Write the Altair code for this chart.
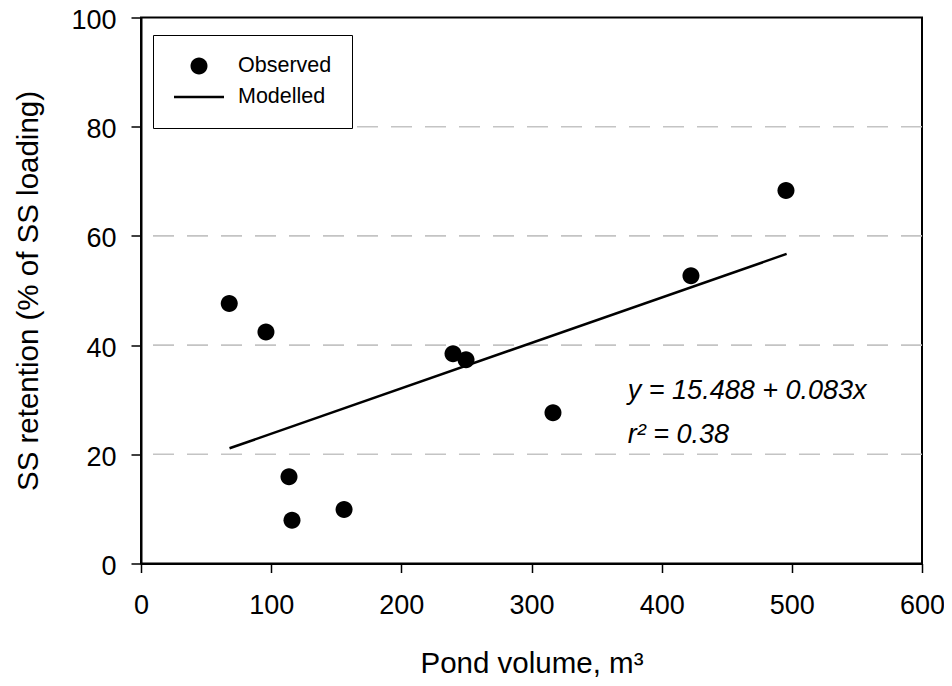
import altair as alt
import pandas as pd

# ---- data ----
obs_x = [67.8, 96.0, 113.7, 116.0, 156.0, 239.7, 249.7, 316.5, 422.5, 495.5]
obs_y = [47.6, 42.4, 15.9, 7.9, 9.9, 38.4, 37.3, 27.6, 52.7, 68.3]
mod_x = [68, 496]
mod_y = [21.1, 56.7]
series_names = ["Observed", "Modelled"]
grid_y = [20, 40, 60, 80]
x_ticks = [0, 100, 200, 300, 400, 500, 600]
y_ticks = [0, 20, 40, 60, 80, 100]
eq_text = ["y = 15.488 + 0.083x", "r\u00b2 = 0.38"]
eq_x = [374, 374]
eq_y = [30.2, 22.0]

FONT = "Liberation Sans"

obs = pd.DataFrame({"x": obs_x, "y": obs_y, "series": series_names[0]})
mod = pd.DataFrame({"x": mod_x, "y": mod_y, "series": series_names[1]})
grid = pd.DataFrame({"y": grid_y})
eq = pd.DataFrame({"x": eq_x, "y": eq_y, "t": eq_text})

xscale = alt.Scale(domain=[0, 600], nice=False, zero=False)
yscale = alt.Scale(domain=[0, 100], nice=False, zero=False)

x_axis = alt.Axis(values=x_ticks, title="Pond volume, m\u00b3", grid=False,
                  labelFontSize=27, labelFont=FONT, labelColor="black",
                  labelPadding=20, tickSize=9, tickWidth=1.5, tickColor="black",
                  domainColor="black", domainWidth=2,
                  titleFont=FONT, titleFontSize=29.5, titleFontWeight="normal",
                  titleColor="black", titleBaseline="alphabetic",
                  titleX=390.5, titleY=109, labelFlush=False)
y_axis = alt.Axis(values=y_ticks, title="SS retention (% of SS loading)", grid=False,
                  labelFontSize=27, labelFont=FONT, labelColor="black",
                  labelPadding=15, labelOffset=3, tickSize=10, tickWidth=1.5,
                  tickColor="black", domainColor="black", domainWidth=2,
                  titleFont=FONT, titleFontSize=29.5, titleFontWeight="normal",
                  titleColor="black", titleBaseline="alphabetic", titleAngle=270,
                  titleX=-104, titleY=273, labelFlush=False)

gridlines = alt.Chart(grid).mark_rule(color="#c4c4c4", strokeWidth=1.6,
                                      strokeDash=[21, 13]).encode(
    y=alt.Y("y:Q", scale=yscale, axis=y_axis)
)

# filled shapes (unit coordinates, scaled by sqrt(size)/2 = 25 px)
circle_path = "M0.34,0A0.34,0.34,0,1,1,-0.34,0A0.34,0.34,0,1,1,0.34,0Z"
line_path = "M-1,-0.05H1V0.05H-1Z"

points = alt.Chart(obs).mark_point(filled=True, size=2500, color="black",
                                   opacity=1).encode(
    x=alt.X("x:Q", scale=xscale, axis=x_axis),
    y=alt.Y("y:Q", scale=yscale, axis=y_axis),
    shape=alt.Shape("series:N",
                    scale=alt.Scale(domain=series_names, range=[circle_path, line_path]),
                    legend=alt.Legend(title=None, orient="none", legendX=12, legendY=17.5,
                                      padding=20, strokeColor="black", fillColor="white",
                                      cornerRadius=0, labelFont=FONT, labelFontSize=21.5,
                                      labelColor="black", labelOffset=13, symbolSize=2500,
                                      symbolOffset=0, clipHeight=22, rowPadding=9,
                                      symbolFillColor="black"))
)

model = alt.Chart(mod).mark_line(color="black", strokeWidth=2.5).encode(
    x=alt.X("x:Q", scale=xscale),
    y=alt.Y("y:Q", scale=yscale)
)

eqs = alt.Chart(eq).mark_text(align="left", baseline="alphabetic", font=FONT,
                              fontSize=27, fontStyle="italic", color="black").encode(
    x=alt.X("x:Q", scale=xscale),
    y=alt.Y("y:Q", scale=yscale),
    text="t:N"
)

chart = alt.layer(gridlines, model, points, eqs).properties(
    width=781, height=546,
    autosize=alt.AutoSizeParams(type="none"),
    padding={"left": 133, "top": 9.5, "right": 22, "bottom": 114},
    background="white"
).configure_view(stroke="black", strokeWidth=2)

chart.save("out.html", embed_options={"renderer": "svg", "actions": False})
